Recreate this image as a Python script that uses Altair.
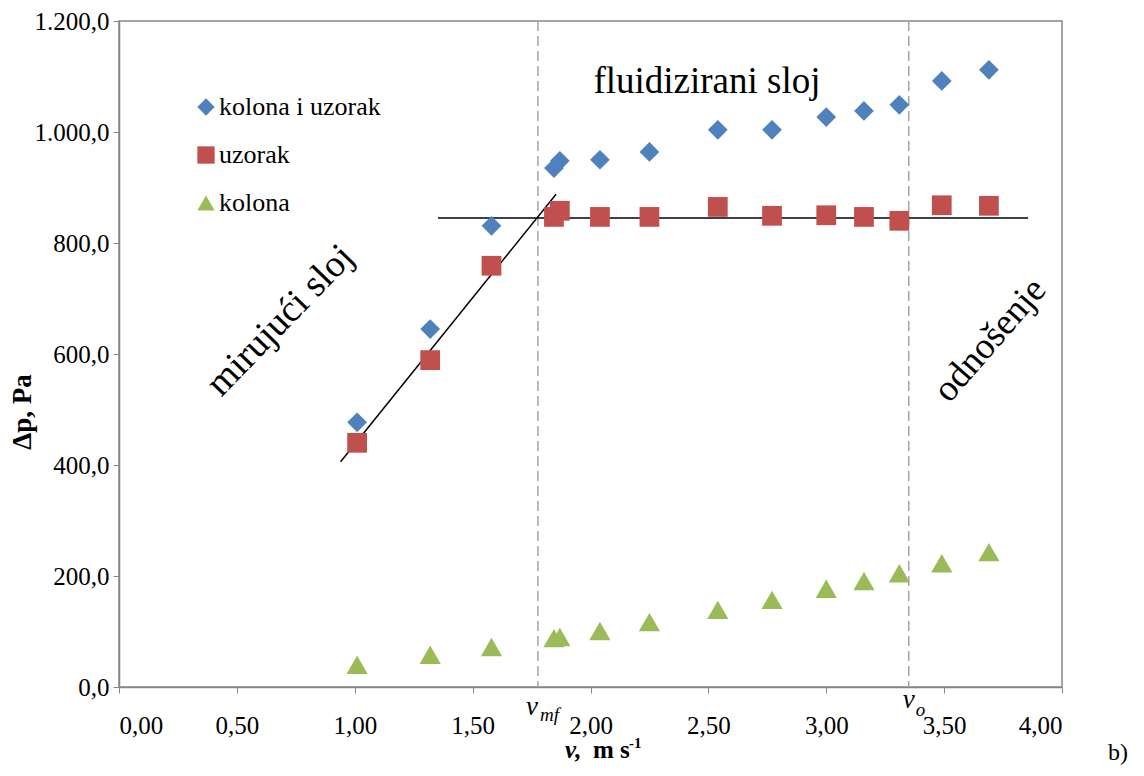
import altair as alt
import pandas as pd

# ---- data ----
v = [1.01, 1.32, 1.58, 1.845, 1.87, 2.04, 2.25, 2.54, 2.77, 3.00, 3.16, 3.31, 3.49, 3.69]
kolona_i_uzorak = [477, 645, 831, 935, 948, 950, 964, 1004, 1004, 1027, 1038, 1049, 1092, 1112]
uzorak = [440, 589, 759, 847, 858, 847, 847, 865, 849, 850, 847, 840, 868, 867]
kolona = [40, 58, 72, 88, 90, 101, 117, 139, 157, 177, 191, 205, 223, 243]

series_names = ["kolona i uzorak", "uzorak", "kolona"]
series_colors = ["#4F81BD", "#C0504D", "#9BBB59"]
series_shapes = ["diamond", "square", "triangle-up"]

# fitted lines (x1, y1, x2, y2)
line_x1 = [0.94, 1.353]
line_y1 = [406, 845]
line_x2 = [1.854, 3.856]
line_y2 = [888, 845]

# characteristic velocities
v_mf = 1.777
v_o = 3.35

x_ticks = [0, 0.5, 1, 1.5, 2, 2.5, 3, 3.5, 4]
y_ticks = [0, 200, 400, 600, 800, 1000, 1200]

FONT = "Liberation Serif"

rows = []
for name, vals in zip(series_names, [kolona_i_uzorak, uzorak, kolona]):
    for xv, yv in zip(v, vals):
        rows.append({"v": xv, "dp": yv, "serija": name})
df = pd.DataFrame(rows)

x_scale = alt.Scale(domain=[0, 4], nice=False, zero=False)
y_scale = alt.Scale(domain=[0, 1200], nice=False)

x_axis = alt.Axis(
    values=x_ticks, title=None, grid=False,
    labelExpr="replace(format(datum.value, '.2f'), '.', ',')",
    labelFont=FONT, labelFontSize=25, labelColor="black", labelPadding=20,
    tickSize=6, tickColor="#868686", domainColor="#868686", domainWidth=1.5,
)
y_axis = alt.Axis(
    values=y_ticks, title=None, grid=False,
    labelExpr="replace(replace(replace(format(datum.value, ',.1f'), ',', '#'), '.', ','), '#', '.')",
    labelFont=FONT, labelFontSize=25, labelColor="black", labelPadding=4,
    tickSize=6, tickColor="#868686", domainColor="#868686", domainWidth=1.5,
)

legend = alt.Legend(
    orient="none", legendX=74, legendY=73, title=None,
    labelFont=FONT, labelFontSize=26, labelColor="black", labelLimit=400,
    symbolSize=300, rowPadding=22, labelOffset=0, symbolStrokeWidth=0,
    padding=0,
)
color_enc = alt.Color(
    "serija:N",
    scale=alt.Scale(domain=series_names, range=series_colors),
    legend=legend,
)
shape_enc = alt.Shape(
    "serija:N",
    scale=alt.Scale(domain=series_names, range=series_shapes),
    legend=legend,
)

base = alt.Chart(df)

sizes = {"kolona i uzorak": 390, "uzorak": 390, "kolona": 450}
point_layers = []
for name in ["uzorak", "kolona i uzorak", "kolona"]:
    point_layers.append(
        base.transform_filter(alt.datum.serija == name)
        .mark_point(filled=True, size=sizes[name], opacity=1, strokeWidth=0)
        .encode(
            x=alt.X("v:Q", scale=x_scale, axis=x_axis),
            y=alt.Y("dp:Q", scale=y_scale, axis=y_axis),
            color=color_enc,
            shape=shape_enc,
        )
    )

vlines = alt.Chart(pd.DataFrame({"v": [v_mf, v_o]})).mark_rule(
    color="#A6A6A6", strokeWidth=1.5, strokeDash=[10, 5]
).encode(x=alt.X("v:Q", scale=x_scale))

fit = alt.Chart(pd.DataFrame({"x1": line_x1, "y1": line_y1, "x2": line_x2, "y2": line_y2})).mark_rule(
    color="black", strokeWidth=1.5
).encode(
    x=alt.X("x1:Q", scale=x_scale), y=alt.Y("y1:Q", scale=y_scale),
    x2="x2:Q", y2="y2:Q",
)

def txt(label, x, y, size, angle=0, align="center", baseline="middle", style="normal",
        weight="normal", dx=0, dy=0):
    return alt.Chart(pd.DataFrame({"t": [label], "x": [x], "y": [y]})).mark_text(
        font=FONT, fontSize=size, angle=angle, align=align, baseline=baseline,
        fontStyle=style, fontWeight=weight, color="black", dx=dx, dy=dy,
    ).encode(
        x=alt.X("x:Q", scale=x_scale), y=alt.Y("y:Q", scale=y_scale), text="t:N"
    )

def ptxt(label, px, py, size, angle=0, align="center", baseline="middle", style="normal",
         weight="normal"):
    return alt.Chart(pd.DataFrame({"t": [label]})).mark_text(
        font=FONT, fontSize=size, angle=angle, align=align, baseline=baseline,
        fontStyle=style, fontWeight=weight, color="black",
    ).encode(x=alt.value(px), y=alt.value(py), text="t:N")

texts = [
    txt("fluidizirani sloj", 2.494, 1090, 37),
    txt("mirujući sloj", 0.685, 660, 38, angle=314),
    txt("odnošenje", 3.695, 625, 37, angle=311),
    txt("v", v_mf, 0, 27, align="right", baseline="alphabetic", style="italic", dy=28),
    txt("mf", v_mf, 0, 19, align="left", baseline="alphabetic", style="italic", dx=2, dy=34),
    txt("v", v_o, 0, 27, align="center", baseline="alphabetic", style="italic", dy=21),
    txt("o", v_o, 0, 19, align="left", baseline="alphabetic", style="italic", dx=7, dy=29),
    # axis titles
    ptxt("Δp, Pa", -96, 391, 27, angle=270, weight="bold"),
    ptxt("v,", 446, 737, 25, align="left", baseline="alphabetic", style="italic", weight="bold"),
    ptxt("m s", 474, 737, 25, align="left", baseline="alphabetic", weight="bold"),
    ptxt("-1", 510, 727, 15, align="left", baseline="alphabetic", weight="bold"),
    ptxt("b)", 999, 732, 24),
]

chart = alt.layer(vlines, fit, *point_layers, *texts).properties(
    width=943,
    height=666,
    autosize=alt.AutoSizeParams(type="none"),
    padding={"left": 111, "top": 13, "right": 70, "bottom": 81},
).configure(font=FONT).configure_view(stroke="#868686", strokeWidth=1.5)

chart.save("out.html", embed_options={"renderer": "svg", "actions": False})
